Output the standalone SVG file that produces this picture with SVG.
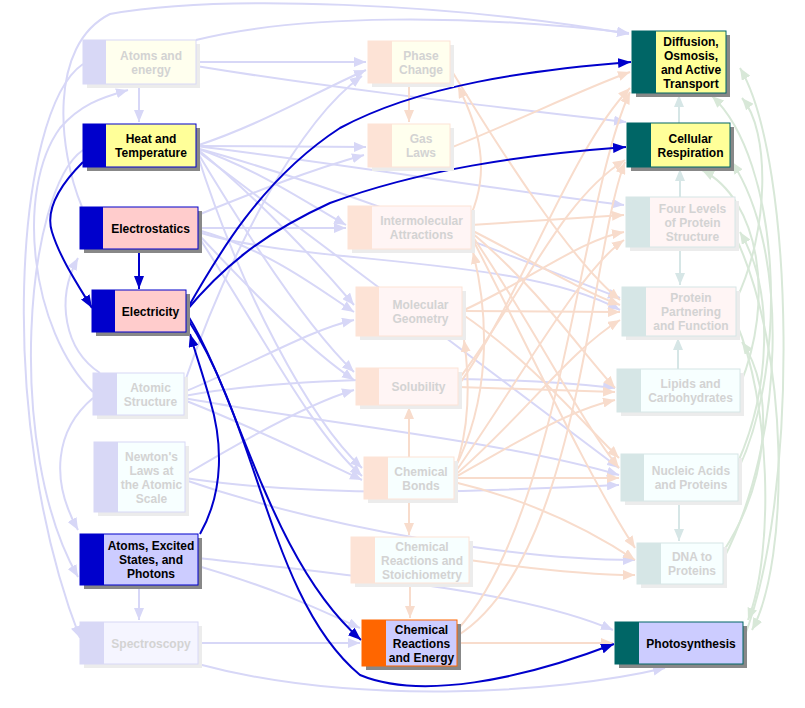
<svg xmlns="http://www.w3.org/2000/svg" width="805" height="708" viewBox="0 0 805 708">
<style>
text{font-family:"Liberation Sans",Arial,sans-serif;font-weight:bold;font-size:12px;text-anchor:middle}
.on text{fill:#000}
.off text{fill:#D3D3D3}
.on .sh{fill:#888}
.off .sh{fill:#ECECEC}
.e path{fill:none;stroke-width:2}
.fb{stroke:#D7D7F7}
.fp{stroke:#F8DCCC}
.fg{stroke:#D8E8D8}
.ft{stroke:#D6E6E6}
.ab{stroke:#0000CC}
</style>
<defs>
<marker id="mfb" markerUnits="userSpaceOnUse" markerWidth="12" markerHeight="10" viewBox="0 0 12 10" refX="12" refY="5" orient="auto"><path d="M0,0L12,5L0,10z" fill="#D7D7F7"/></marker>
<marker id="mfp" markerUnits="userSpaceOnUse" markerWidth="12" markerHeight="10" viewBox="0 0 12 10" refX="12" refY="5" orient="auto"><path d="M0,0L12,5L0,10z" fill="#F8DCCC"/></marker>
<marker id="mfg" markerUnits="userSpaceOnUse" markerWidth="12" markerHeight="10" viewBox="0 0 12 10" refX="12" refY="5" orient="auto"><path d="M0,0L12,5L0,10z" fill="#D8E8D8"/></marker>
<marker id="mft" markerUnits="userSpaceOnUse" markerWidth="12" markerHeight="10" viewBox="0 0 12 10" refX="12" refY="5" orient="auto"><path d="M0,0L12,5L0,10z" fill="#D6E6E6"/></marker>
<marker id="mab" markerUnits="userSpaceOnUse" markerWidth="13" markerHeight="10" viewBox="0 0 13 10" refX="13" refY="5" orient="auto"><path d="M0,0L13,5L0,10z" fill="#0000CC"/></marker>
</defs>
<g id="connectors" class="e">
<g class="fb" marker-end="url(#mfb)">
<path d="M82,207 C58,150 48,45 110,14 C220,-6 450,3 629,34"/>
<path d="M196,40 C300,14 470,14 629,33"/>
<path d="M196,62 L366,62"/>
<path d="M196,66 C330,88 480,105 626,122"/>
<path d="M139,84 L139,122"/>
<path d="M196,146 C260,125 310,95 366,70"/>
<path d="M196,146 L366,147"/>
<path d="M196,148 C260,170 310,205 346,225"/>
<path d="M196,148 C260,200 320,265 354,305"/>
<path d="M196,150 C250,240 310,330 354,372"/>
<path d="M196,150 C240,290 310,420 362,468"/>
<path d="M196,146 C350,165 500,190 624,205"/>
<path d="M196,148 C350,190 520,260 620,298"/>
<path d="M196,150 C330,250 500,380 619,468"/>
<path d="M198,228 L346,228"/>
<path d="M198,230 C270,250 320,290 354,312"/>
<path d="M198,232 C300,265 520,255 620,310"/>
<path d="M198,234 C260,300 310,350 354,380"/>
<path d="M198,236 C260,330 310,430 362,476"/>
<path d="M198,215 C260,190 310,170 364,155"/>
<path d="M184,384 C230,250 300,120 362,76"/>
<path d="M184,392 C260,360 310,330 354,320"/>
<path d="M184,396 C300,375 500,375 615,388"/>
<path d="M184,398 C300,420 500,440 619,475"/>
<path d="M184,400 C260,430 320,460 362,480"/>
<path d="M185,475 C260,430 320,400 354,390"/>
<path d="M185,478 C330,500 500,490 619,485"/>
<path d="M185,480 C330,530 520,560 635,560"/>
<path d="M198,558 C350,575 520,590 613,630"/>
<path d="M198,566 C280,590 320,610 360,628"/>
<path d="M198,643 L360,643"/>
<path d="M198,664 C350,705 550,695 665,668"/>
<path d="M93,392 C30,330 15,190 60,128 C80,105 100,98 128,90"/>
<path d="M93,398 C55,430 50,480 78,530"/>
<path d="M83,150 C25,190 5,450 78,577"/>
<path d="M83,64 C15,110 -5,420 80,638"/>
<path d="M100,373 C65,350 55,300 78,258"/>
<path d="M139,585 L139,620"/>
</g>
<g class="fp" marker-end="url(#mfp)">
<path d="M409,83 L409,122"/>
<path d="M409,457 L409,407"/>
<path d="M409,499 L409,535"/>
<path d="M410,583 L410,618"/>
<path d="M471,215 C490,170 480,130 458,86"/>
<path d="M450,68 C500,150 570,260 620,300"/>
<path d="M450,148 C520,120 580,90 630,72"/>
<path d="M471,225 L624,215"/>
<path d="M471,230 C530,260 580,290 620,305"/>
<path d="M471,232 C540,290 580,350 615,388"/>
<path d="M471,234 C530,320 580,420 619,468"/>
<path d="M471,236 C530,350 590,480 635,548"/>
<path d="M462,311 C530,280 580,240 624,232"/>
<path d="M462,311 L620,312"/>
<path d="M462,314 C530,360 580,420 619,458"/>
<path d="M458,386 C520,300 570,150 630,88"/>
<path d="M458,387 L615,392"/>
<path d="M458,380 C520,300 560,200 625,160"/>
<path d="M454,470 C490,400 490,320 473,252"/>
<path d="M454,472 C470,430 470,380 464,340"/>
<path d="M454,476 C520,420 570,350 620,320"/>
<path d="M454,478 C520,440 570,410 615,400"/>
<path d="M454,478 L619,478"/>
<path d="M454,482 C530,500 590,530 635,560"/>
<path d="M454,474 C520,380 580,270 624,240"/>
<path d="M457,630 C560,520 580,200 630,92"/>
<path d="M457,636 C580,560 590,250 625,162"/>
<path d="M457,643 L613,643"/>
<path d="M469,560 C540,570 590,575 635,575"/>
</g>
<g class="ft" marker-end="url(#mft)">
<path d="M679,123 L679,95"/>
<path d="M680,197 L680,169"/>
<path d="M680,247 L680,285"/>
<path d="M678,369 L678,338"/>
<path d="M679,501 L679,541"/>
</g>
<g class="fg" marker-end="url(#mfg)">
<path d="M743,640 C800,500 795,160 740,68"/>
<path d="M723,560 C785,440 790,250 732,162"/>
<path d="M738,470 C790,360 780,160 712,96"/>
<path d="M740,385 C775,300 760,200 702,170"/>
<path d="M738,462 C770,390 775,290 740,232"/>
<path d="M723,552 C770,480 775,390 742,342"/>
<path d="M736,322 C770,400 775,550 748,620"/>
<path d="M735,236 C790,350 790,560 752,630"/>
<path d="M736,300 C770,230 770,130 742,98"/>
</g>
<g class="ab" marker-end="url(#mab)">
<path d="M83,162 C60,185 45,210 52,232 C60,258 78,285 92,308"/>
<path d="M139,249 L139,289"/>
<path d="M186,311 C215,260 260,180 340,128 C420,85 530,70 631,62"/>
<path d="M186,311 C220,270 260,235 330,203 C420,170 520,155 626,147"/>
<path d="M200,534 C225,490 222,440 210,400 C203,375 196,355 190,334"/>
<path d="M187,314 C240,400 270,560 361,640"/>
<path d="M187,318 C260,430 270,600 360,675 C420,700 520,680 614,644"/>
</g>
</g>
<g id="atoms_and_energy" class="off"><rect class="sh" x="87" y="44" width="113" height="44"/><rect x="83" y="40" width="113" height="44" fill="#FFFFEE" stroke="#D8D8F6"/><rect x="83" y="40" width="23" height="44" fill="#D8D8F6"/><text x="151"><tspan x="151" y="59.5">Atoms and</tspan><tspan x="151" y="73.5">energy</tspan></text></g>
<g id="heat_and_temperature" class="on"><rect class="sh" x="87" y="128" width="113" height="43"/><rect x="83" y="124" width="113" height="43" fill="#FFFF99" stroke="#0000CC"/><rect x="83" y="124" width="23" height="43" fill="#0000CC"/><text><tspan x="151" y="143">Heat and</tspan><tspan x="151" y="157">Temperature</tspan></text></g>
<g id="electrostatics" class="on"><rect class="sh" x="84" y="211" width="118" height="42"/><rect x="80" y="207" width="118" height="42" fill="#FFCCCC" stroke="#0000CC"/><rect x="80" y="207" width="23" height="42" fill="#0000CC"/><text x="150.5" y="232.5">Electrostatics</text></g>
<g id="electricity" class="on"><rect class="sh" x="96" y="294" width="94" height="42"/><rect x="92" y="290" width="94" height="42" fill="#FFCCCC" stroke="#0000CC"/><rect x="92" y="290" width="23" height="42" fill="#0000CC"/><text x="150.5" y="315.5">Electricity</text></g>
<g id="atomic_structure" class="off"><rect class="sh" x="97" y="377" width="91" height="42"/><rect x="93" y="373" width="91" height="42" fill="#F7FFFF" stroke="#D8D8F6"/><rect x="93" y="373" width="24" height="42" fill="#D8D8F6"/><text><tspan x="150.5" y="391.5">Atomic</tspan><tspan x="150.5" y="405.5">Structure</tspan></text></g>
<g id="newtons_laws" class="off"><rect class="sh" x="98" y="446" width="91" height="70"/><rect x="94" y="442" width="91" height="70" fill="#F7FFFF" stroke="#D8D8F6"/><rect x="94" y="442" width="24" height="70" fill="#D8D8F6"/><text><tspan x="151.5" y="460.5">Newton's</tspan><tspan x="151.5" y="474.5">Laws at</tspan><tspan x="151.5" y="488.5">the Atomic</tspan><tspan x="151.5" y="502.5">Scale</tspan></text></g>
<g id="atoms_excited_states" class="on"><rect class="sh" x="84" y="538" width="118" height="51"/><rect x="80" y="534" width="118" height="51" fill="#CCCCFF" stroke="#0000CC"/><rect x="80" y="534" width="24" height="51" fill="#0000CC"/><text><tspan x="151" y="550">Atoms, Excited</tspan><tspan x="151" y="564">States, and</tspan><tspan x="151" y="578">Photons</tspan></text></g>
<g id="spectroscopy" class="off"><rect class="sh" x="84" y="626" width="118" height="42"/><rect x="80" y="622" width="118" height="42" fill="#F5F5FF" stroke="#D8D8F6"/><rect x="80" y="622" width="24" height="42" fill="#D8D8F6"/><text x="151" y="647.5">Spectroscopy</text></g>
<g id="phase_change" class="off"><rect class="sh" x="372" y="45" width="82" height="42"/><rect x="368" y="41" width="82" height="42" fill="#FFFFEE" stroke="#FDE3D6"/><rect x="368" y="41" width="24" height="42" fill="#FDE3D6"/><text><tspan x="421" y="59.5">Phase</tspan><tspan x="421" y="73.5">Change</tspan></text></g>
<g id="gas_laws" class="off"><rect class="sh" x="372" y="128" width="82" height="43"/><rect x="368" y="124" width="82" height="43" fill="#FFFFEE" stroke="#FDE3D6"/><rect x="368" y="124" width="24" height="43" fill="#FDE3D6"/><text><tspan x="421" y="143">Gas</tspan><tspan x="421" y="157">Laws</tspan></text></g>
<g id="intermolecular_attractions" class="off"><rect class="sh" x="352" y="210" width="123" height="43"/><rect x="348" y="206" width="123" height="43" fill="#FFF5F5" stroke="#FDE3D6"/><rect x="348" y="206" width="24" height="43" fill="#FDE3D6"/><text><tspan x="421.5" y="225">Intermolecular</tspan><tspan x="421.5" y="239">Attractions</tspan></text></g>
<g id="molecular_geometry" class="off"><rect class="sh" x="360" y="291" width="106" height="49"/><rect x="356" y="287" width="106" height="49" fill="#FFF5F5" stroke="#FDE3D6"/><rect x="356" y="287" width="23" height="49" fill="#FDE3D6"/><text><tspan x="420.5" y="309">Molecular</tspan><tspan x="420.5" y="323">Geometry</tspan></text></g>
<g id="solubility" class="off"><rect class="sh" x="360" y="372" width="102" height="37"/><rect x="356" y="368" width="102" height="37" fill="#FFF5F5" stroke="#FDE3D6"/><rect x="356" y="368" width="23" height="37" fill="#FDE3D6"/><text x="418.5" y="391">Solubility</text></g>
<g id="chemical_bonds" class="off"><rect class="sh" x="368" y="461" width="90" height="42"/><rect x="364" y="457" width="90" height="42" fill="#F7FFFF" stroke="#FDE3D6"/><rect x="364" y="457" width="24" height="42" fill="#FDE3D6"/><text><tspan x="421" y="475.5">Chemical</tspan><tspan x="421" y="489.5">Bonds</tspan></text></g>
<g id="chemical_reactions_stoichiometry" class="off"><rect class="sh" x="355" y="541" width="118" height="46"/><rect x="351" y="537" width="118" height="46" fill="#F7FFFF" stroke="#FDE3D6"/><rect x="351" y="537" width="24" height="46" fill="#FDE3D6"/><text><tspan x="422" y="550.5">Chemical</tspan><tspan x="422" y="564.5">Reactions and</tspan><tspan x="422" y="578.5">Stoichiometry</tspan></text></g>
<g id="chemical_reactions_energy" class="on"><rect class="sh" x="366" y="624" width="95" height="46"/><rect x="362" y="620" width="95" height="46" fill="#CCCCFF" stroke="#FF6600"/><rect x="362" y="620" width="24" height="46" fill="#FF6600"/><text><tspan x="421.5" y="633.5">Chemical</tspan><tspan x="421.5" y="647.5">Reactions</tspan><tspan x="421.5" y="661.5">and Energy</tspan></text></g>
<g id="diffusion_osmosis" class="on"><rect class="sh" x="636" y="35" width="94" height="62"/><rect x="632" y="31" width="94" height="62" fill="#FFFF99" stroke="#006666"/><rect x="632" y="31" width="24" height="62" fill="#006666"/><text><tspan x="691" y="45.5">Diffusion,</tspan><tspan x="691" y="59.5">Osmosis,</tspan><tspan x="691" y="73.5">and Active</tspan><tspan x="691" y="87.5">Transport</tspan></text></g>
<g id="cellular_respiration" class="on"><rect class="sh" x="631" y="127" width="103" height="44"/><rect x="627" y="123" width="103" height="44" fill="#FFFF99" stroke="#006666"/><rect x="627" y="123" width="24" height="44" fill="#006666"/><text><tspan x="690.5" y="142.5">Cellular</tspan><tspan x="690.5" y="156.5">Respiration</tspan></text></g>
<g id="four_levels_protein" class="off"><rect class="sh" x="630" y="201" width="109" height="50"/><rect x="626" y="197" width="109" height="50" fill="#FFF5F5" stroke="#D6E6E6"/><rect x="626" y="197" width="24" height="50" fill="#D6E6E6"/><text><tspan x="692.5" y="212.5">Four Levels</tspan><tspan x="692.5" y="226.5">of Protein</tspan><tspan x="692.5" y="240.5">Structure</tspan></text></g>
<g id="protein_partnering" class="off"><rect class="sh" x="626" y="291" width="114" height="49"/><rect x="622" y="287" width="114" height="49" fill="#FFF5F5" stroke="#D6E6E6"/><rect x="622" y="287" width="24" height="49" fill="#D6E6E6"/><text><tspan x="691" y="302">Protein</tspan><tspan x="691" y="316">Partnering</tspan><tspan x="691" y="330">and Function</tspan></text></g>
<g id="lipids_carbohydrates" class="off"><rect class="sh" x="621" y="373" width="123" height="43"/><rect x="617" y="369" width="123" height="43" fill="#F7FFFF" stroke="#D6E6E6"/><rect x="617" y="369" width="24" height="43" fill="#D6E6E6"/><text><tspan x="690.5" y="388">Lipids and</tspan><tspan x="690.5" y="402">Carbohydrates</tspan></text></g>
<g id="nucleic_acids" class="off"><rect class="sh" x="625" y="458" width="117" height="47"/><rect x="621" y="454" width="117" height="47" fill="#F7FFFF" stroke="#D6E6E6"/><rect x="621" y="454" width="23" height="47" fill="#D6E6E6"/><text><tspan x="691" y="475">Nucleic Acids</tspan><tspan x="691" y="489">and Proteins</tspan></text></g>
<g id="dna_to_proteins" class="off"><rect class="sh" x="641" y="547" width="86" height="41"/><rect x="637" y="543" width="86" height="41" fill="#F7FFFF" stroke="#D6E6E6"/><rect x="637" y="543" width="24" height="41" fill="#D6E6E6"/><text><tspan x="692" y="561">DNA to</tspan><tspan x="692" y="575">Proteins</tspan></text></g>
<g id="photosynthesis" class="on"><rect class="sh" x="619" y="626" width="128" height="42"/><rect x="615" y="622" width="128" height="42" fill="#CCCCFF" stroke="#006666"/><rect x="615" y="622" width="24" height="42" fill="#006666"/><text x="691" y="647.5">Photosynthesis</text></g>
</svg>
